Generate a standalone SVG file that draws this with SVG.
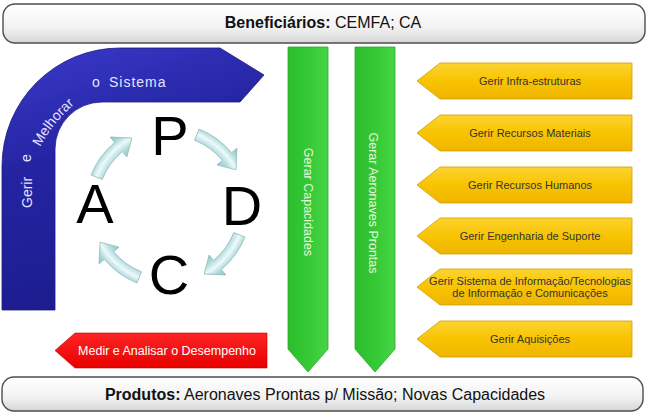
<svg xmlns="http://www.w3.org/2000/svg" width="654" height="416" viewBox="0 0 654 416">
<defs>
<linearGradient id="barG" x1="0" y1="0" x2="0" y2="1"><stop offset="0" stop-color="#ffffff"/><stop offset="0.6" stop-color="#f2f2f2"/><stop offset="1" stop-color="#d6d6d6"/></linearGradient>
<linearGradient id="blueG" x1="0" y1="0" x2="0.3" y2="1"><stop offset="0" stop-color="#3a3acb"/><stop offset="0.45" stop-color="#2424a2"/><stop offset="1" stop-color="#1c1c8e"/></linearGradient>
<linearGradient id="greenG" x1="0" y1="0" x2="1" y2="0"><stop offset="0" stop-color="#2cbd2c"/><stop offset="0.5" stop-color="#35c935"/><stop offset="1" stop-color="#46d446"/></linearGradient>
<linearGradient id="yelG" x1="0" y1="0" x2="0" y2="1"><stop offset="0" stop-color="#fcd330"/><stop offset="0.5" stop-color="#f8c400"/><stop offset="1" stop-color="#efb400"/></linearGradient>
<linearGradient id="redG" x1="0" y1="0" x2="0" y2="1"><stop offset="0" stop-color="#ff2424"/><stop offset="1" stop-color="#e80000"/></linearGradient>
<radialGradient id="cyanG" gradientUnits="userSpaceOnUse" cx="0" cy="0" r="92"><stop offset="0.68" stop-color="#8cc2c4"/><stop offset="0.77" stop-color="#b2dcdd"/><stop offset="0.84" stop-color="#ecfafa"/><stop offset="0.91" stop-color="#a9d6d8"/><stop offset="1" stop-color="#86bcbe"/></radialGradient>
<path id="cyc" d="M76.96,31.09 A83,83 0 0 1 53.35,63.58 L57.85,68.94 L36.15,67.98 L41.14,49.03 L45.64,54.39 A71,71 0 0 0 65.83,26.6 Z"/>
<path id="melPath" d="M40,147 Q56,117 86,95"/>
</defs>
<style>
.bar{fill:url(#barG);stroke:#4d4d4d;stroke-width:1.4}
.bt{font-family:"Liberation Sans",Arial,sans-serif;font-size:16px;fill:#111;text-anchor:middle}
.bt .b{font-weight:bold}
.blue{fill:url(#blueG);stroke:#1a1a80;stroke-width:0.8}
.wt{font-family:"Liberation Sans",Arial,sans-serif;font-size:14px;fill:#e4e4ff}
.cyc{fill:url(#cyanG);stroke:#8fb8bb;stroke-width:0.8}
.pdca{font-family:"Liberation Sans",Arial,sans-serif;font-size:56px;fill:#000;text-anchor:middle}
.green{fill:url(#greenG);stroke:#2aa82a;stroke-width:0.8}
.gt{font-family:"Liberation Sans",Arial,sans-serif;font-size:12.5px;fill:#e6f7dc;text-anchor:middle}
.yel{fill:url(#yelG);stroke:#d2a000;stroke-width:0.8}
.yt{font-family:"Liberation Sans",Arial,sans-serif;font-size:11px;fill:#333;text-anchor:middle}
.red{fill:url(#redG);stroke:#c80000;stroke-width:0.6}
.rt{font-family:"Liberation Sans",Arial,sans-serif;font-size:12.5px;fill:#fff;text-anchor:middle}
</style>
<rect width="654" height="416" fill="#fff"/>
<g id="beneficiarios">
<rect class="bar" x="3" y="4" width="642" height="39" rx="12"/>
<text class="bt" x="323" y="28"><tspan class="b">Beneficiários:</tspan> CEMFA; CA</text>
</g>
<g id="gerir-melhorar">
<path class="blue" d="M2,310 L2,166 A118,118 0 0 1 120,48 L220,48 L264,75 L240,102 L102,102 A47,47 0 0 0 55,149 L55,310 Z"/>
<text class="wt" transform="translate(32,208) rotate(-90)">Gerir</text>
<text class="wt" transform="translate(31,162) rotate(-90)">e</text>
<text class="wt"><textPath href="#melPath">Melhorar</textPath></text>
<text class="wt" x="92" y="87">o</text>
<text class="wt" x="109" y="87" letter-spacing="1">Sistema</text>
</g>
<g id="pdca-arrows">
<use href="#cyc" class="cyc" transform="translate(168,206)"/>
<use href="#cyc" class="cyc" transform="translate(168,206) rotate(90)"/>
<use href="#cyc" class="cyc" transform="translate(168,206) rotate(180)"/>
<use href="#cyc" class="cyc" transform="translate(168,206) rotate(270)"/>
</g>
<g id="pdca-letters">
<text class="pdca" x="170" y="155">P</text>
<text class="pdca" x="242" y="225">D</text>
<text class="pdca" x="169" y="294">C</text>
<text class="pdca" x="95" y="223">A</text>
</g>
<g id="gerar-capacidades">
<polygon class="green" points="288,47 328,47 328,349 308,372 288,349"/>
<text class="gt" transform="translate(304,202) rotate(90)">Gerar Capacidades</text>
</g>
<g id="gerar-aeronaves">
<polygon class="green" points="355,47 395,47 395,349 375,372 355,349"/>
<text class="gt" transform="translate(369,203) rotate(90)">Gerar Aeronaves Prontas</text>
</g>
<g id="infra">
<polygon class="yel" points="417,81 440,63 632,63 632,99 440,99"/>
<text class="yt" x="530" y="85">Gerir Infra-estruturas</text>
</g>
<g id="materiais">
<polygon class="yel" points="417,133 440,115 632,115 632,151 440,151"/>
<text class="yt" x="530" y="137">Gerir Recursos Materiais</text>
</g>
<g id="humanos">
<polygon class="yel" points="417,185 440,167 632,167 632,203 440,203"/>
<text class="yt" x="530" y="189">Gerir Recursos Humanos</text>
</g>
<g id="engenharia">
<polygon class="yel" points="417,236 440,218 632,218 632,254 440,254"/>
<text class="yt" x="530" y="240">Gerir Engenharia de Suporte</text>
</g>
<g id="sistema-informacao">
<polygon class="yel" points="417,287 440,269 632,269 632,305 440,305"/>
<text class="yt" x="530" y="284.5">Gerir Sistema de Informação/Tecnologias</text>
<text class="yt" x="530" y="297">de Informação e Comunicações</text>
</g>
<g id="aquisicoes">
<polygon class="yel" points="417,339 440,321 632,321 632,357 440,357"/>
<text class="yt" x="530" y="343">Gerir Aquisições</text>
</g>
<g id="medir">
<polygon class="red" points="55,350.5 75,333 267,333 267,368 75,368"/>
<text class="rt" x="167" y="355">Medir e Analisar o Desempenho</text>
</g>
<g id="produtos">
<rect class="bar" x="2" y="377" width="641" height="34" rx="12"/>
<text class="bt" x="325" y="400"><tspan class="b">Produtos:</tspan> Aeronaves Prontas p/ Missão; Novas Capacidades</text>
</g>
<g id="connectors"/>
</svg>
